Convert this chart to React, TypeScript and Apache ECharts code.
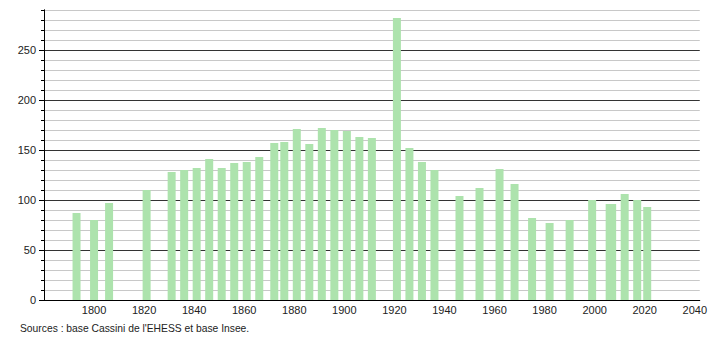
import React, { useEffect, useRef } from "react";
import * as echarts from "echarts";

const years = [1793, 1800, 1806, 1821, 1831, 1836, 1841, 1846, 1851, 1856, 1861, 1866, 1872, 1876, 1881, 1886, 1891, 1896, 1901, 1906, 1911, 1921, 1926, 1931, 1936, 1946, 1954, 1962, 1968, 1975, 1982, 1990, 1999, 2006, 2007, 2012, 2017, 2021];
const population = [87, 80, 97, 110, 128, 130, 132, 141, 132, 137, 138, 143, 157, 158, 171, 156, 172, 170, 169, 163, 162, 282, 152, 138, 130, 104, 112, 131, 116, 82, 77, 80, 100, 96, 96, 106, 100, 93];
const yMajorTicks = [0, 50, 100, 150, 200, 250];
const sourceText = "Sources : base Cassini de l'EHESS et base Insee.";

const FONT = "Liberation Sans";

export default function App() {
  const ref = useRef<HTMLDivElement>(null);
  useEffect(() => {
    if (!ref.current) return;
    const chart = echarts.init(ref.current, undefined, { renderer: "svg" });
    const data = years.map((y, i) => [y, population[i]]);
    chart.setOption({
      animation: false,
      grid: { left: 44, right: 10, top: 10, bottom: 40 },
      xAxis: {
        type: "value",
        min: 1780,
        max: 2042,
        interval: 20,
        axisLine: { show: true, lineStyle: { color: "#000", width: 1 } },
        axisTick: { show: false },
        splitLine: { show: false },
        axisLabel: {
          margin: 4,
          fontSize: 11,
          fontFamily: FONT,
          color: "#222",
          formatter: (v: number) => (v % 20 === 0 && v > 1780 ? String(v) : ""),
        },
      },
      yAxis: [
        {
          type: "value",
          min: 0,
          max: 290,
          interval: 10,
          position: "left",
          axisLine: { show: true, lineStyle: { color: "#000" } },
          axisTick: { show: true, length: 3, lineStyle: { color: "#000" } },
          axisLabel: { show: false },
          splitLine: {
            show: true,
            lineStyle: { color: ["#333", "#c8c8c8", "#c8c8c8", "#c8c8c8", "#c8c8c8"], width: 1 },
          },
        },
        {
          type: "value",
          min: 0,
          max: 290,
          interval: 50,
          position: "left",
          axisLine: { show: true, lineStyle: { color: "#000" } },
          axisTick: { show: true, length: 5, customValues: yMajorTicks, lineStyle: { color: "#000" } },
          axisLabel: {
            customValues: yMajorTicks,
            margin: 8,
            fontSize: 11,
            fontFamily: FONT,
            color: "#222",
          },
          splitLine: { show: false },
        },
      ],
      series: [
        {
          type: "bar",
          yAxisIndex: 0,
          barWidth: 8,
          data,
          itemStyle: { color: "#ade3ad" },
        },
      ],
      graphic: [
        {
          type: "text",
          left: 20,
          top: 323,
          style: { text: sourceText, font: `10.3px ${FONT}`, fill: "#222" },
        },
      ],
    });
    return () => chart.dispose();
  }, []);
  return <div ref={ref} style={{ position: "absolute", left: 0, top: 0, width: 710, height: 340 }} />;
}
